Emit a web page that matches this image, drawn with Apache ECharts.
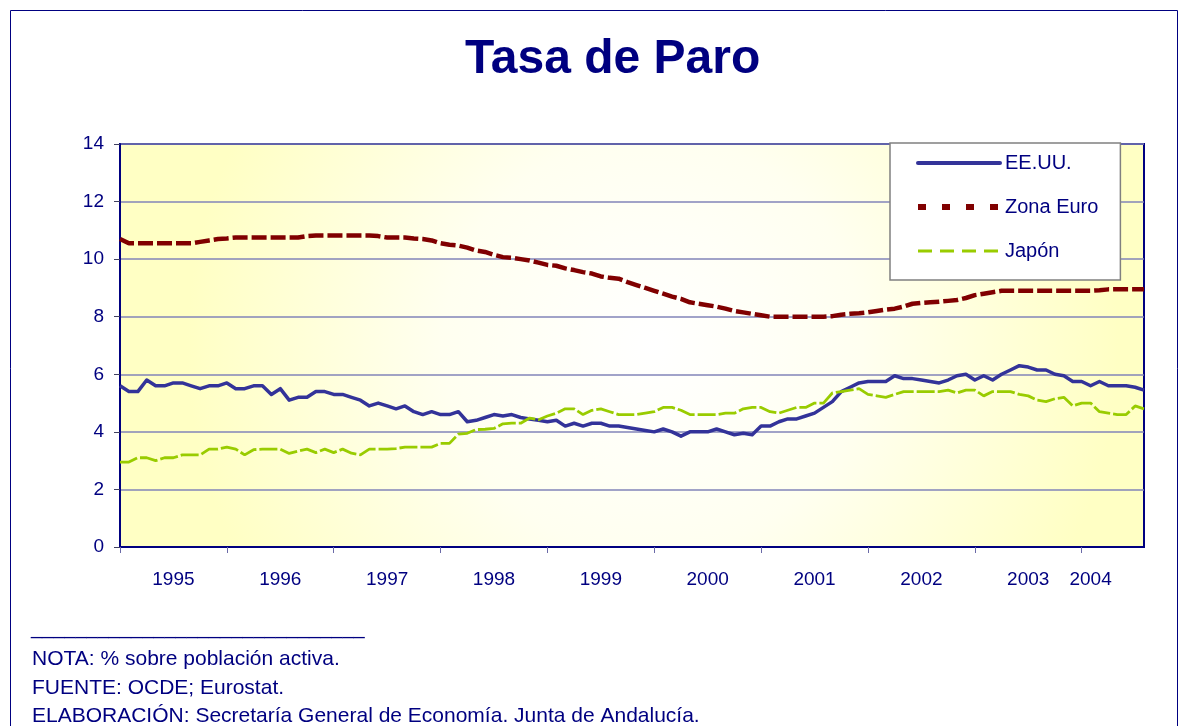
<!DOCTYPE html>
<html><head><meta charset="utf-8">
<script src="https://cdn.jsdelivr.net/npm/echarts@6/dist/echarts.min.js"></script>
<style>html,body{margin:0;padding:0;background:#fff}#c{width:1189px;height:726px}</style>
</head><body><div id="c"></div>
<script>
// Monthly categories Jan 1995 .. Aug 2004
const years = ['1995','1996','1997','1998','1999','2000','2001','2002','2003','2004'];
const monthNames = ['01','02','03','04','05','06','07','08','09','10','11','12'];
const categories = [];
years.forEach(y => monthNames.forEach(m => { if (!(y === '2004' && +m > 8)) categories.push(y + '-' + m); }));

const eeuu = [
 5.6,5.4,5.4,5.8,5.6,5.6,5.7,5.7,5.6,5.5,5.6,5.6,
 5.7,5.5,5.5,5.6,5.6,5.3,5.5,5.1,5.2,5.2,5.4,5.4,
 5.3,5.3,5.2,5.1,4.9,5.0,4.9,4.8,4.9,4.7,4.6,4.7,
 4.6,4.6,4.7,4.35,4.4,4.5,4.6,4.55,4.6,4.5,4.45,4.4,
 4.35,4.4,4.2,4.3,4.2,4.3,4.3,4.2,4.2,4.15,4.1,4.05,
 4.0,4.1,4.0,3.85,4.0,4.0,4.0,4.1,4.0,3.9,3.95,3.9,
 4.2,4.2,4.35,4.45,4.45,4.55,4.65,4.85,5.05,5.4,5.55,5.7,
 5.75,5.75,5.75,5.95,5.85,5.85,5.8,5.75,5.7,5.8,5.95,6.0,
 5.8,5.95,5.8,6.0,6.15,6.3,6.25,6.15,6.15,6.0,5.95,5.75,
 5.75,5.6,5.75,5.6,5.6,5.6,5.55,5.45
];
const zonaEuro = [
 10.7,10.55,10.55,10.55,10.55,10.55,10.55,10.55,10.55,10.6,10.65,10.7,
 10.72,10.75,10.75,10.75,10.75,10.75,10.75,10.75,10.75,10.8,10.82,10.82,
 10.82,10.82,10.82,10.82,10.82,10.8,10.75,10.75,10.75,10.72,10.7,10.65,
 10.55,10.5,10.47,10.4,10.3,10.25,10.15,10.07,10.05,10.0,9.95,9.88,
 9.8,9.77,9.68,9.62,9.55,9.5,9.4,9.35,9.32,9.2,9.1,9.0,
 8.9,8.8,8.7,8.62,8.5,8.45,8.4,8.35,8.28,8.2,8.15,8.1,
 8.05,8.0,8.0,8.0,8.0,8.0,8.0,8.0,8.02,8.07,8.1,8.12,
 8.15,8.2,8.25,8.28,8.35,8.45,8.48,8.5,8.52,8.55,8.58,8.65,
 8.75,8.8,8.85,8.9,8.9,8.9,8.9,8.9,8.9,8.9,8.9,8.9,
 8.9,8.9,8.92,8.95,8.95,8.95,8.95,8.95
];
const japon = [
 2.95,2.95,3.1,3.1,3.0,3.1,3.1,3.2,3.2,3.2,3.4,3.4,
 3.47,3.4,3.2,3.38,3.4,3.4,3.4,3.25,3.33,3.4,3.28,3.4,
 3.28,3.4,3.26,3.2,3.4,3.4,3.4,3.42,3.47,3.47,3.47,3.47,
 3.6,3.6,3.92,3.95,4.08,4.09,4.12,4.28,4.3,4.3,4.48,4.42,
 4.55,4.65,4.8,4.8,4.6,4.75,4.8,4.7,4.6,4.6,4.6,4.65,
 4.7,4.85,4.85,4.75,4.6,4.6,4.6,4.6,4.65,4.65,4.8,4.85,
 4.85,4.7,4.65,4.75,4.85,4.85,5.0,5.0,5.35,5.4,5.45,5.5,
 5.3,5.25,5.2,5.3,5.4,5.4,5.4,5.4,5.4,5.45,5.35,5.45,
 5.45,5.25,5.4,5.4,5.4,5.3,5.25,5.1,5.05,5.15,5.2,4.9,
 5.0,5.0,4.7,4.65,4.6,4.6,4.9,4.8
];
const seriesNames = ['EE.UU.', 'Zona Euro', 'Japón'];
const yTicks = [0, 2, 4, 6, 8, 10, 12, 14];
const notes = [
 'NOTA: % sobre población activa.',
 'FUENTE: OCDE; Eurostat.',
 'ELABORACIÓN: Secretaría General de Economía. Junta de Andalucía.'
];

const NAVY = '#000080';
const FONT = "'Liberation Sans', Arial, sans-serif";

function yearLabelAt(idx) {
  const c = categories[idx];
  if (!c) return '';
  const [y, m] = c.split('-');
  if (y !== '2004' && m === '07') return y;
  if (y === '2004' && m === '02') return y;
  return '';
}

const chart = echarts.init(document.getElementById('c'), null, {renderer: 'canvas'});
chart.setOption({
  animation: false,
  backgroundColor: '#ffffff',
  title: {
    text: 'Tasa de Paro', left: 460, top: 31,
    textStyle: {color: NAVY, fontSize: 48, fontWeight: 'bold', fontFamily: FONT}
  },
  grid: {
    left: 120, right: 45, top: 144, bottom: 179, show: true,
    borderColor: NAVY, borderWidth: 2,
    backgroundColor: {
      type: 'radial', x: 0.52, y: 0.5, r: 1.15,
      colorStops: [{offset: 0, color: '#ffffff'}, {offset: 0.45, color: '#fffff0'}, {offset: 1, color: '#ffffc4'}]
    }
  },
  legend: {
    orient: 'vertical', left: 890, top: 143,
    backgroundColor: '#ffffff', borderColor: '#808080', borderWidth: 1.5,
    padding: [10, 22, 19, 25], itemWidth: 82, itemHeight: 16, itemGap: 24,
    itemStyle: {opacity: 0},
    textStyle: {color: NAVY, fontSize: 20, fontFamily: FONT},
    data: [
      {name: seriesNames[0], itemStyle: {opacity: 0}, lineStyle: {width: 4, type: 'solid', cap: 'round'}},
      {name: seriesNames[1], itemStyle: {opacity: 0}, lineStyle: {width: 6, type: [8, 16]}},
      {name: seriesNames[2], itemStyle: {opacity: 0}, lineStyle: {width: 3, type: [14, 8]}}
    ]
  },
  xAxis: {
    type: 'category', data: categories, boundaryGap: false,
    axisLine: {lineStyle: {color: NAVY, width: 2}},
    axisTick: {interval: (i) => i % 12 === 0, length: 6, lineStyle: {color: '#6a6aa8', width: 1}},
    axisLabel: {
      interval: (i) => yearLabelAt(i) !== '',
      formatter: (v, i) => yearLabelAt(i),
      color: NAVY, fontSize: 19, fontFamily: FONT, margin: 23
    },
    splitLine: {show: false}
  },
  yAxis: {
    type: 'value', min: yTicks[0], max: yTicks[yTicks.length - 1], interval: 2,
    axisLine: {show: true, lineStyle: {color: NAVY, width: 2}},
    axisTick: {show: true, length: 6, lineStyle: {color: '#404060'}},
    axisLabel: {color: NAVY, fontSize: 19, fontFamily: FONT, margin: 16},
    splitLine: {lineStyle: {color: '#8284b8', width: 1.5}}
  },
  series: [
    {name: seriesNames[0], type: 'line', data: eeuu, symbol: 'none', color: '#333399',
     lineStyle: {color: '#333399', width: 3.5, join: 'round'}},
    {name: seriesNames[1], type: 'line', data: zonaEuro, symbol: 'none', color: '#800000',
     lineStyle: {color: '#800000', width: 4.5, type: [15, 4]}},
    {name: seriesNames[2], type: 'line', data: japon, symbol: 'none', color: '#99cc00',
     lineStyle: {color: '#99cc00', width: 2.8, type: [18, 3]}}
  ],
  graphic: [
    {type: 'rect', shape: {x: 10.5, y: 10.5, width: 1167, height: 730}, silent: true, z: -1,
     style: {fill: 'none', stroke: NAVY, lineWidth: 1}},
    {type: 'text', left: 31, top: 618, style: {text: '______________________________', fill: NAVY, font: '20px ' + FONT}},
    {type: 'text', left: 32, top: 649, style: {text: notes[0], fill: NAVY, font: '21px ' + FONT}},
    {type: 'text', left: 32, top: 678, style: {text: notes[1], fill: NAVY, font: '21px ' + FONT}},
    {type: 'text', left: 32, top: 706, style: {text: notes[2], fill: NAVY, font: '21px ' + FONT}}
  ]
});
</script></body></html>
